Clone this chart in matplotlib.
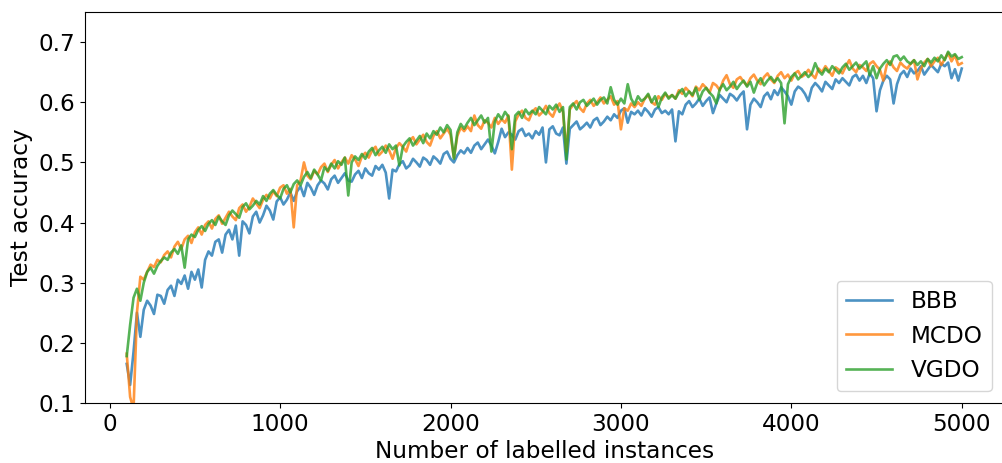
import numpy as np
import matplotlib
matplotlib.use("Agg")
import matplotlib.pyplot as plt

# Number of labelled instances at each acquisition step
n_labelled = np.arange(100, 5001, 20)

# Test accuracy per method
acc_bbb = [
    0.165, 0.130, 0.185, 0.250, 0.210, 0.255, 0.270, 0.262, 0.248, 0.280,
    0.278, 0.265, 0.288, 0.295, 0.278, 0.305, 0.298, 0.312, 0.290, 0.318,
    0.305, 0.322, 0.292, 0.338, 0.352, 0.345, 0.368, 0.372, 0.350, 0.380,
    0.388, 0.372, 0.395, 0.345, 0.402, 0.396, 0.382, 0.410, 0.418, 0.400,
    0.412, 0.428, 0.420, 0.405, 0.435, 0.442, 0.430, 0.438, 0.450, 0.436,
    0.452, 0.460, 0.444, 0.466, 0.458, 0.446, 0.462, 0.470, 0.465, 0.455,
    0.472, 0.478, 0.466, 0.474, 0.482, 0.470, 0.468, 0.480, 0.486, 0.474,
    0.490, 0.482, 0.478, 0.494, 0.488, 0.496, 0.483, 0.440, 0.488, 0.485,
    0.497, 0.502, 0.490, 0.495, 0.506, 0.500, 0.493, 0.508, 0.504, 0.496,
    0.510, 0.505, 0.498, 0.514, 0.518, 0.506, 0.500, 0.512, 0.520, 0.515,
    0.524, 0.516, 0.528, 0.533, 0.522, 0.530, 0.538, 0.528, 0.515, 0.534,
    0.556, 0.542, 0.550, 0.546, 0.538, 0.552, 0.556, 0.544, 0.548, 0.540,
    0.552, 0.546, 0.558, 0.500, 0.555, 0.560, 0.548, 0.545, 0.558, 0.498,
    0.556, 0.562, 0.568, 0.555, 0.560, 0.566, 0.558, 0.570, 0.574, 0.562,
    0.568, 0.576, 0.570, 0.580, 0.574, 0.586, 0.590, 0.566, 0.584, 0.580,
    0.586, 0.578, 0.590, 0.584, 0.576, 0.588, 0.592, 0.582, 0.586, 0.580,
    0.588, 0.535, 0.585, 0.580, 0.596, 0.602, 0.592, 0.598, 0.606, 0.594,
    0.602, 0.608, 0.582, 0.598, 0.612, 0.606, 0.600, 0.614, 0.610, 0.603,
    0.612, 0.618, 0.555, 0.596, 0.606, 0.600, 0.592, 0.610, 0.616, 0.605,
    0.620, 0.612, 0.625, 0.618, 0.610, 0.596, 0.618, 0.626, 0.622, 0.614,
    0.602, 0.624, 0.632, 0.626, 0.618, 0.634, 0.628, 0.622, 0.638, 0.632,
    0.640, 0.634, 0.628, 0.642, 0.646, 0.636, 0.644, 0.632, 0.648, 0.640,
    0.585, 0.620, 0.636, 0.644, 0.638, 0.598, 0.630, 0.646, 0.652, 0.642,
    0.656, 0.648, 0.652, 0.660, 0.646, 0.654, 0.662, 0.656, 0.650, 0.664,
    0.660, 0.666, 0.640, 0.655, 0.636, 0.656,
]

acc_mcdo = [
    0.182, 0.110, 0.090, 0.250, 0.310, 0.305, 0.318, 0.330, 0.326, 0.338,
    0.334, 0.346, 0.352, 0.342, 0.360, 0.368, 0.356, 0.372, 0.378, 0.366,
    0.384, 0.392, 0.380, 0.396, 0.402, 0.390, 0.406, 0.412, 0.398, 0.408,
    0.418, 0.410, 0.404, 0.424, 0.430, 0.418, 0.426, 0.440, 0.432, 0.424,
    0.438, 0.446, 0.440, 0.452, 0.444, 0.458, 0.462, 0.448, 0.456, 0.392,
    0.462, 0.470, 0.500, 0.478, 0.472, 0.486, 0.480, 0.492, 0.498, 0.484,
    0.496, 0.504, 0.490, 0.500, 0.508, 0.498, 0.512, 0.505, 0.494, 0.510,
    0.516, 0.508, 0.520, 0.526, 0.512, 0.518, 0.528, 0.520, 0.506, 0.524,
    0.532, 0.526, 0.518, 0.536, 0.542, 0.530, 0.538, 0.546, 0.534, 0.528,
    0.544, 0.552, 0.540, 0.548, 0.556, 0.546, 0.508, 0.544, 0.558, 0.552,
    0.560, 0.552, 0.578, 0.562, 0.556, 0.570, 0.566, 0.558, 0.574, 0.564,
    0.572, 0.566, 0.578, 0.488, 0.568, 0.580, 0.586, 0.574, 0.570, 0.584,
    0.590, 0.578, 0.584, 0.594, 0.582, 0.576, 0.590, 0.598, 0.584, 0.518,
    0.588, 0.596, 0.602, 0.590, 0.584, 0.598, 0.604, 0.594, 0.600, 0.608,
    0.598, 0.604, 0.610, 0.596, 0.602, 0.555, 0.590, 0.586, 0.598, 0.592,
    0.600, 0.594, 0.606, 0.612, 0.600, 0.596, 0.610, 0.604, 0.614, 0.608,
    0.612, 0.606, 0.620, 0.614, 0.624, 0.618, 0.610, 0.626, 0.620, 0.630,
    0.624, 0.616, 0.632, 0.628, 0.620, 0.636, 0.645, 0.630, 0.624, 0.638,
    0.642, 0.634, 0.628, 0.640, 0.646, 0.636, 0.630, 0.642, 0.648, 0.638,
    0.632, 0.644, 0.650, 0.640, 0.646, 0.636, 0.648, 0.652, 0.642, 0.646,
    0.654, 0.646, 0.640, 0.656, 0.650, 0.660, 0.652, 0.644, 0.658, 0.654,
    0.648, 0.660, 0.670, 0.656, 0.650, 0.662, 0.658, 0.652, 0.664, 0.668,
    0.660, 0.654, 0.636, 0.662, 0.668, 0.658, 0.652, 0.666, 0.660, 0.656,
    0.664, 0.670, 0.638, 0.656, 0.666, 0.672, 0.660, 0.668, 0.674, 0.662,
    0.672, 0.682, 0.668, 0.678, 0.662, 0.665,
]

acc_vgdo = [
    0.178, 0.230, 0.275, 0.290, 0.270, 0.300, 0.318, 0.325, 0.315, 0.328,
    0.336, 0.342, 0.338, 0.350, 0.356, 0.348, 0.362, 0.325, 0.372, 0.380,
    0.376, 0.388, 0.394, 0.386, 0.398, 0.404, 0.396, 0.410, 0.402, 0.396,
    0.412, 0.420, 0.414, 0.408, 0.426, 0.432, 0.422, 0.428, 0.436, 0.430,
    0.444, 0.436, 0.448, 0.454, 0.446, 0.440, 0.456, 0.462, 0.450, 0.464,
    0.470, 0.462, 0.476, 0.484, 0.474, 0.488, 0.480, 0.470, 0.492, 0.486,
    0.498, 0.490, 0.502, 0.496, 0.508, 0.445, 0.500, 0.510, 0.504, 0.514,
    0.506, 0.518, 0.524, 0.512, 0.520, 0.526, 0.516, 0.530, 0.522, 0.528,
    0.495, 0.526, 0.534, 0.540, 0.528, 0.536, 0.544, 0.532, 0.548, 0.540,
    0.552, 0.546, 0.558, 0.550, 0.562, 0.554, 0.506, 0.550, 0.564, 0.556,
    0.566, 0.574, 0.562, 0.570, 0.578, 0.566, 0.574, 0.518, 0.568, 0.580,
    0.572, 0.584, 0.576, 0.522, 0.578, 0.584, 0.574, 0.588, 0.580, 0.586,
    0.580, 0.592, 0.586, 0.580, 0.594, 0.588, 0.596, 0.584, 0.592, 0.505,
    0.592, 0.598, 0.588, 0.600, 0.604, 0.594, 0.600, 0.606, 0.596, 0.604,
    0.608, 0.598, 0.625, 0.604, 0.596, 0.606, 0.598, 0.630, 0.606, 0.596,
    0.610, 0.602, 0.606, 0.614, 0.600, 0.610, 0.592, 0.608, 0.616, 0.606,
    0.612, 0.606, 0.616, 0.622, 0.610, 0.618, 0.612, 0.624, 0.604, 0.618,
    0.624, 0.616, 0.610, 0.598, 0.622, 0.630, 0.620, 0.626, 0.634, 0.622,
    0.630, 0.636, 0.626, 0.634, 0.616, 0.632, 0.640, 0.628, 0.636, 0.642,
    0.634, 0.640, 0.632, 0.565, 0.630, 0.642, 0.648, 0.638, 0.644, 0.650,
    0.642, 0.648, 0.665, 0.652, 0.646, 0.656, 0.650, 0.660, 0.654, 0.648,
    0.658, 0.664, 0.654, 0.660, 0.666, 0.656, 0.662, 0.668, 0.645, 0.660,
    0.640, 0.656, 0.664, 0.670, 0.662, 0.676, 0.678, 0.670, 0.676, 0.668,
    0.664, 0.670, 0.662, 0.668, 0.660, 0.672, 0.666, 0.674, 0.668, 0.678,
    0.670, 0.684, 0.676, 0.680, 0.672, 0.675,
]

series = [("BBB", acc_bbb, "#1f77b4"),
          ("MCDO", acc_mcdo, "#ff7f0e"),
          ("VGDO", acc_vgdo, "#2ca02c")]

plt.rcParams["font.family"] = "DejaVu Sans"
FS = 16.7

fig = plt.figure(figsize=(10.02, 4.63), dpi=100)
ax = fig.add_axes([0.0848, 0.1296, 0.9167, 0.8444])

for name, acc, color in series:
    ax.plot(n_labelled, acc, color=color, lw=1.9, alpha=0.8, label=name)

ax.set_ylim(0.1, 0.75)
ax.set_yticks([0.1, 0.2, 0.3, 0.4, 0.5, 0.6, 0.7])
ax.set_xticks([0, 1000, 2000, 3000, 4000, 5000])
ax.tick_params(labelsize=FS)
ax.set_xlabel("Number of labelled instances", fontsize=FS, labelpad=3)
ax.set_ylabel("Test accuracy", fontsize=FS)
ax.legend(loc="lower right", fontsize=FS, borderaxespad=0.5)

fig.savefig("out.png", dpi=100)
